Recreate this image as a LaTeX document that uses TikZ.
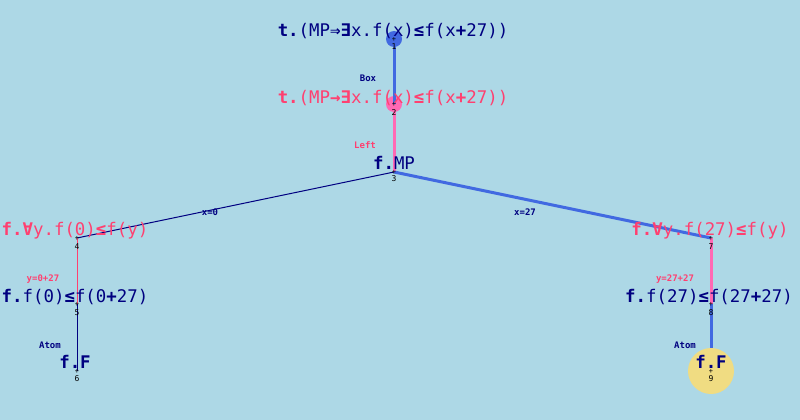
\documentclass[tikz,border=0pt]{standalone}
\usepackage{fontspec}
\newfontfamily\mono{DejaVu Sans Mono}
\newcommand\bsym[1]{\textbf{#1}}
\definecolor{bgc}{HTML}{ADD8E6}
\definecolor{navyc}{HTML}{000080}
\definecolor{redc}{HTML}{FF4070}
\definecolor{bluec}{HTML}{4169E1}
\definecolor{pinkc}{HTML}{FF69B4}
\definecolor{goldc}{HTML}{F0DC82}
\tikzset{
  pt/.style={inner sep=0pt, minimum size=0pt},
  formula/.style={anchor=base, inner sep=0pt, font=\fontsize{17.4}{20}\mono},
  navytext/.style={formula, text=navyc},
  redtext/.style={formula, text=redc},
  elabel/.style={inner sep=0pt, font=\fontsize{9}{10}\mono\bfseries},
  num/.style={inner sep=0pt, font=\fontsize{8}{9}\mono, text=black},
  tick/.style={inner sep=0pt, font=\fontsize{7}{7}\mono, text=black},
  thickblue/.style={draw=bluec, line width=3pt},
  thickpink/.style={draw=pinkc, line width=3pt},
  thinnavy/.style={draw=navyc, line width=1pt},
  thinred/.style={draw=redc, line width=1pt},
}
\begin{document}
\begin{tikzpicture}[x=1pt, y=-1pt]
\fill[bgc] (0,0) rectangle (800,420);
\useasboundingbox (0,0) rectangle (800,420);
% points
\node[pt] (p1) at (394,39) {};
\node[pt] (p2) at (394,104) {};
\node[pt] (p3) at (394,172) {};
\node[pt] (p4) at (77,238) {};
\node[pt] (p5) at (77,304) {};
\node[pt] (p6) at (77,371) {};
\node[pt] (p7) at (711,238) {};
\node[pt] (p8) at (711,304) {};
\node[pt] (p9) at (711,371) {};
% circles
\fill[bluec] (p1) circle (8);
\fill[pinkc] (p2) circle (8);
% edges
\draw[thickpink] (p2) -- (p3);
\draw[thickblue] (p1) -- (p2);
\draw[thinnavy] (p3) -- (p4);
\draw[thickblue] (p3) -- (p7);
\draw[thinred] (p4) -- (p5);
\draw[thinnavy] (p5) -- (p6);
\draw[thickpink] (p7) -- (p8);
\draw[thickblue] (p8) -- (p9);
\fill[goldc] (p9) circle (23);
% edge labels
\node[elabel, text=navyc] (l12) at (368,78) {Box};
\node[elabel, text=redc] (l23) at (365,145) {Left};
\node[elabel, text=navyc] (l34) at (210,212) {x=0};
\node[elabel, text=navyc] (l37) at (525,212) {x=27};
\node[elabel, text=redc] (l45) at (43,279) {y=0+27};
\node[elabel, text=navyc] (l56) at (50,345) {Atom};
\node[elabel, text=redc] (l78) at (675,279) {y=27+27};
\node[elabel, text=navyc] (l89) at (685,345) {Atom};
% ticks
\foreach \p in {p1,p2,p3,p4,p5,p6,p7,p8,p9} {\node[tick] at (\p) {+};}
% formulas
\node[navytext] (t1) at (393,37) {\textbf{t.}(MP\bsym{⇒∃}x.f(x)\bsym{≤}f(x\bsym{+}27))};
\node[redtext] (t2) at (393,103) {\textbf{t.}(MP\bsym{→∃}x.f(x)\bsym{≤}f(x\bsym{+}27))};
\node[navytext] (t3) at (394,169) {\textbf{f.}MP};
\node[redtext] (t4) at (75,235) {\textbf{f.}\bsym{∀}y.f(0)\bsym{≤}f(y)};
\node[navytext] (t5) at (75,302) {\textbf{f.}f(0)\bsym{≤}f(0\bsym{+}27)};
\node[navytext] (t6) at (75,368) {\textbf{f.F}};
\node[redtext] (t7) at (710,235) {\textbf{f.}\bsym{∀}y.f(27)\bsym{≤}f(y)};
\node[navytext] (t8) at (709,302) {\textbf{f.}f(27)\bsym{≤}f(27\bsym{+}27)};
\node[navytext] (t9) at (711,368) {\textbf{f.F}};
% numbers
\node[num] (n1) at (394,47) {1};
\node[num] (n2) at (394,113) {2};
\node[num] (n3) at (394,179) {3};
\node[num] (n4) at (77,247) {4};
\node[num] (n5) at (77,313) {5};
\node[num] (n6) at (77,379) {6};
\node[num] (n7) at (711,247) {7};
\node[num] (n8) at (711,313) {8};
\node[num] (n9) at (711,379) {9};
\end{tikzpicture}
\end{document}
